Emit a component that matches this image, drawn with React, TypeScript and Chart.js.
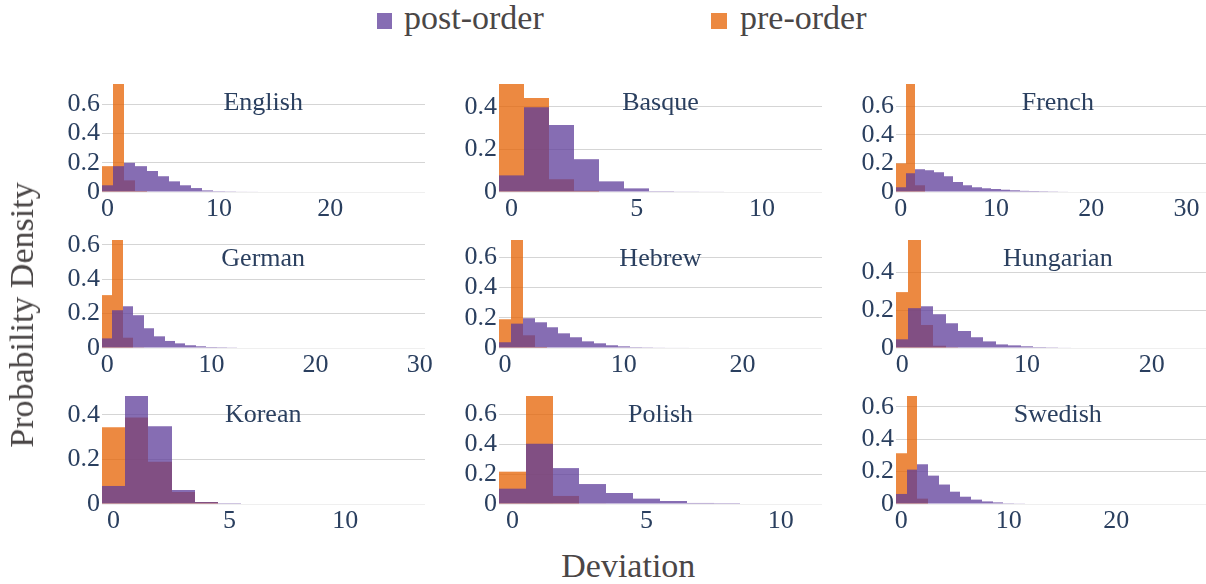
import React, { useEffect, useRef } from 'react';
import { Chart, registerables } from 'chart.js';

Chart.register(...registerables);

// ---------- data ----------
const languages = ['English', 'Basque', 'French', 'German', 'Hebrew', 'Hungarian', 'Korean', 'Polish', 'Swedish'];
const seriesNames = ['post-order', 'pre-order'];

// probability density per deviation bin (bin i centred on deviation i)
const postEnglish = [0.046, 0.177, 0.2, 0.177, 0.144, 0.108, 0.073, 0.046, 0.027, 0.011, 0.006, 0.005, 0.004, 0.003];
const preEnglish = [0.177, 0.74, 0.08, 0.007];
const postBasque = [0.078, 0.398, 0.314, 0.154, 0.05, 0.017, 0.004, 0.003, 0.002];
const preBasque = [0.507, 0.441, 0.06, 0.006];
const postFrench = [0.033, 0.131, 0.159, 0.152, 0.138, 0.11, 0.07, 0.047, 0.033, 0.026, 0.021, 0.016, 0.012, 0.008, 0.007, 0.006, 0.005, 0.004];
const preFrench = [0.2, 0.754, 0.047];
const postGerman = [0.056, 0.22, 0.243, 0.191, 0.115, 0.068, 0.041, 0.027, 0.016, 0.01, 0.006, 0.005, 0.004, 0.003, 0.003];
const preGerman = [0.308, 0.629, 0.06, 0.004];
const postHebrew = [0.038, 0.161, 0.197, 0.17, 0.137, 0.097, 0.071, 0.044, 0.031, 0.018, 0.011, 0.006, 0.005, 0.004, 0.003, 0.003];
const preHebrew = [0.19, 0.714, 0.084, 0.007];
const postHungarian = [0.046, 0.211, 0.221, 0.179, 0.131, 0.09, 0.057, 0.035, 0.019, 0.014, 0.009, 0.005, 0.004, 0.003];
const preHungarian = [0.296, 0.572, 0.122, 0.012, 0.004];
const postKorean = [0.081, 0.485, 0.349, 0.063, 0.009, 0.004];
const preKorean = [0.345, 0.388, 0.19, 0.054, 0.009];
const postPolish = [0.103, 0.404, 0.241, 0.134, 0.074, 0.036, 0.02, 0.007, 0.006];
const prePolish = [0.217, 0.725, 0.054, 0.004];
const postSwedish = [0.062, 0.212, 0.245, 0.175, 0.12, 0.076, 0.045, 0.027, 0.016, 0.01, 0.005, 0.004, 0.003];
const preSwedish = [0.313, 0.666, 0.033];

const postOrder = [postEnglish, postBasque, postFrench, postGerman, postHebrew, postHungarian, postKorean, postPolish, postSwedish];
const preOrder = [preEnglish, preBasque, preFrench, preGerman, preHebrew, preHungarian, preKorean, prePolish, preSwedish];

// x axis range ends and tick labels
const xRangeMax = [28.5, 12.4, 33.4, 30.5, 26.7, 25.4, 13.44, 11.54, 29.55];
const xTickValues = [
  [0, 10, 20], [0, 5, 10], [0, 10, 20, 30],
  [0, 10, 20, 30], [0, 10, 20], [0, 10, 20],
  [0, 5, 10], [0, 5, 10], [0, 10, 20],
];
const yTickValues = [
  [0, 0.2, 0.4, 0.6], [0, 0.2, 0.4], [0, 0.2, 0.4, 0.6],
  [0, 0.2, 0.4, 0.6], [0, 0.2, 0.4, 0.6], [0, 0.2, 0.4],
  [0, 0.2, 0.4], [0, 0.2, 0.4, 0.6], [0, 0.2, 0.4, 0.6],
];

// ---------- style / layout ----------
const FONT = "'Liberation Serif', 'Times New Roman', Times, serif";
const PURPLE = 'rgba(94, 60, 153, 0.75)';
const ORANGE = 'rgba(230, 97, 1, 0.75)';
const TICK_COLOR = '#2a3f5f';
const TITLE_COLOR = '#4a4646';
const COL_LEFT = [101.7, 499, 896.3];
const ROW_TOP = [84, 240, 396];
const PLOT_W = 323;
const PLOT_H = 108;
const Y_AXIS_W = 70;
const PAD_TOP = 16;
const PAD_RIGHT = 20;
const X_AXIS_H = 40;
const CANVAS_W = Y_AXIS_W + PLOT_W + PAD_RIGHT;
const CANVAS_H = PAD_TOP + PLOT_H + X_AXIS_H;

// snap bar edges to device pixels so adjacent bins join without seams
const crispBars = {
  id: 'crispBars',
  afterDatasetsUpdate(chart: any) {
    const dpr = chart.currentDevicePixelRatio || 1;
    chart.data.datasets.forEach((_: any, di: number) => {
      const meta = chart.getDatasetMeta(di);
      meta.data.forEach((el: any) => {
        const L = Math.round((el.x - el.width / 2) * dpr) / dpr;
        const R = Math.round((el.x + el.width / 2) * dpr) / dpr;
        el.x = (L + R) / 2;
        el.width = R - L;
      });
    });
  },
};

function Subplot({ idx }: { idx: number }) {
  const ref = useRef<HTMLCanvasElement>(null);
  const col = idx % 3;
  const row = Math.floor(idx / 3);

  useEffect(() => {
    let chart: Chart | null = null;
    let cancelled = false;
    const build = () => {
      if (cancelled || !ref.current) return;
      const post = postOrder[idx];
      const pre = preOrder[idx];
      const yMax = Math.max(...post, ...pre);
      const tickFont = { family: FONT, size: 26, lineHeight: 1 };
      chart = new Chart(ref.current, {
        type: 'bar',
        data: {
          datasets: [
            {
              label: seriesNames[0],
              data: post.map((v, i) => ({ x: i, y: v })),
              backgroundColor: PURPLE,
            },
            {
              label: seriesNames[1],
              data: pre.map((v, i) => ({ x: i, y: v })),
              backgroundColor: ORANGE,
            },
          ],
        } as any,
        plugins: [crispBars],
        options: {
          animation: false,
          responsive: false,
          maintainAspectRatio: false,
          layout: { padding: { top: PAD_TOP, right: PAD_RIGHT, left: 0, bottom: 0 } },
          plugins: { legend: { display: false }, tooltip: { enabled: false }, title: { display: false } },
          datasets: {
            bar: {
              barPercentage: 1,
              categoryPercentage: 1,
              grouped: false,
              borderWidth: 0,
              inflateAmount: 0,
            },
          },
          scales: {
            x: {
              type: 'linear',
              min: -0.5,
              max: xRangeMax[idx],
              offset: false,
              grid: { display: false, drawTicks: false },
              border: { display: false },
              ticks: {
                font: tickFont,
                color: TICK_COLOR,
                padding: 4,
                autoSkip: false,
                maxRotation: 0,
                callback: (v: any) => String(v),
              },
              afterBuildTicks: (s: any) => {
                s.ticks = xTickValues[idx].map((v) => ({ value: v }));
              },
              afterFit: (s: any) => {
                s.height = X_AXIS_H;
              },
            },
            y: {
              type: 'linear',
              min: 0,
              max: yMax,
              grid: {
                drawTicks: false,
                color: (ctx: any) => (ctx.tick && ctx.tick.value === 0 ? '#efefef' : '#d5d5d5'),
                lineWidth: 1,
              },
              border: { display: false },
              ticks: {
                font: tickFont,
                color: TICK_COLOR,
                padding: 2,
                autoSkip: false,
                callback: (v: any) => String(v),
              },
              afterBuildTicks: (s: any) => {
                s.ticks = yTickValues[idx].map((v) => ({ value: v }));
              },
              afterFit: (s: any) => {
                s.width = Y_AXIS_W;
              },
            },
          },
        } as any,
      });
    };
    const fonts: any = (document as any).fonts;
    if (fonts && fonts.load) {
      fonts.load("26px 'Liberation Serif'").then(build, build);
    } else {
      build();
    }
    return () => {
      cancelled = true;
      if (chart) chart.destroy();
    };
  }, [idx]);

  return (
    <>
      <canvas
        ref={ref}
        width={CANVAS_W}
        height={CANVAS_H}
        style={{
          position: 'absolute',
          left: COL_LEFT[col] - Y_AXIS_W,
          top: ROW_TOP[row] - PAD_TOP,
          width: CANVAS_W,
          height: CANVAS_H,
        }}
      />
      <div
        style={{
          position: 'absolute',
          left: COL_LEFT[col] + PLOT_W / 2,
          top: ROW_TOP[row] + 4.7,
          transform: 'translateX(-50%)',
          fontFamily: FONT,
          fontSize: 26,
          lineHeight: '26px',
          color: TICK_COLOR,
          whiteSpace: 'nowrap',
        }}
      >
        {languages[idx]}
      </div>
    </>
  );
}

export default function App() {
  const legendText: React.CSSProperties = {
    position: 'absolute',
    top: 0.8,
    fontFamily: FONT,
    fontSize: 34,
    lineHeight: '34px',
    color: TITLE_COLOR,
    whiteSpace: 'nowrap',
  };
  return (
    <div
      style={{
        position: 'absolute',
        left: 0,
        top: 0,
        width: 1206,
        height: 584,
        overflow: 'hidden',
        background: '#ffffff',
      }}
    >
      {languages.map((_, i) => (
        <Subplot key={i} idx={i} />
      ))}
      {/* legend */}
      <div style={{ position: 'absolute', left: 377, top: 13, width: 15, height: 16, background: PURPLE }} />
      <div style={{ ...legendText, left: 404 }}>{seriesNames[0]}</div>
      <div style={{ position: 'absolute', left: 710.5, top: 13, width: 16, height: 16, background: ORANGE }} />
      <div style={{ ...legendText, left: 740 }}>{seriesNames[1]}</div>
      {/* axis titles */}
      <div
        style={{
          position: 'absolute',
          left: 628.3,
          top: 548.8,
          transform: 'translateX(-50%)',
          fontFamily: FONT,
          fontSize: 34,
          lineHeight: '34px',
          color: TITLE_COLOR,
          whiteSpace: 'nowrap',
        }}
      >
        Deviation
      </div>
      <div
        style={{
          position: 'absolute',
          left: 21.5,
          top: 315,
          transform: 'translate(-50%, -50%) rotate(-90deg)',
          fontFamily: FONT,
          fontSize: 34,
          lineHeight: '34px',
          color: TITLE_COLOR,
          whiteSpace: 'nowrap',
        }}
      >
        Probability Density
      </div>
    </div>
  );
}
